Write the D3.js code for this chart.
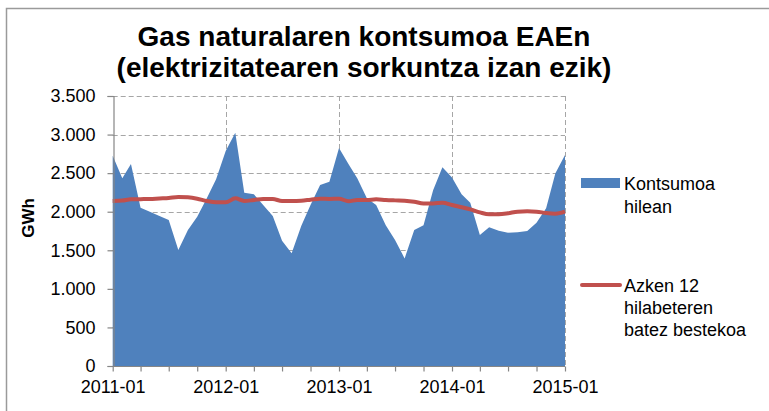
<!DOCTYPE html>
<html lang="eu">
<meta charset="utf-8">
<script src="https://d3js.org/d3.v7.min.js"></script>
<style>
  body { margin: 0; background: #fff; }
  text { font-family: "Liberation Sans", Arial, sans-serif; fill: #000; }
</style>
<div id="my_dataviz"></div>
<script>

// monthly consumption (GWh), 2011-01 .. 2015-01
var kontsumoa = [2726, 2433, 2618, 2053, 2001, 1944, 1893, 1504, 1763, 1936, 2173, 2420,
                 2787, 3025, 2247, 2225, 2087, 1944, 1625, 1460, 1815, 2087, 2346, 2390,
                 2826, 2616, 2433, 2173, 2087, 1826, 1633, 1395, 1763, 1826, 2279, 2575,
                 2445, 2225, 2117, 1698, 1797, 1754, 1728, 1733, 1750, 1858, 2044, 2498,
                 2736];
// 12-month moving average
var batezBestekoa = [2139, 2145, 2161, 2163, 2165, 2172, 2178, 2190, 2186, 2169, 2139, 2122,
                     2122, 2173, 2139, 2152, 2165, 2165, 2139, 2139, 2143, 2156, 2169, 2165,
                     2169, 2135, 2152, 2152, 2161, 2152, 2147, 2143, 2130, 2108, 2108, 2117,
                     2087, 2057, 2031, 1992, 1966, 1966, 1979, 2001, 2005, 2001, 1983, 1975,
                     2001];
var startMonth = new Date(2011, 0, 1);
var endMonth = new Date(2015, 0, 1);
var yTicks = [0, 500, 1000, 1500, 2000, 2500, 3000, 3500];
var titleLines = ["Gas naturalaren kontsumoa EAEn", "(elektrizitatearen sorkuntza izan ezik)"];
var legendArea = ["Kontsumoa", "hilean"];
var legendLine = ["Azken 12", "hilabeteren", "batez bestekoa"];

var W = 769, H = 411;
var margin = {top: 96, left: 112.7, right: 204, bottom: 45};

var svg = d3.select("#my_dataviz")
  .append("svg")
    .attr("width", W)
    .attr("height", H);

// outer chart frame
svg.append("rect")
  .attr("x", 6.5).attr("y", 8.5)
  .attr("width", 800).attr("height", 420)
  .attr("fill", "none")
  .attr("stroke", "#9a9a9a")
  .attr("stroke-width", 1.5);

var months = d3.timeMonth.range(startMonth, d3.timeMonth.offset(endMonth, 1));
var data = months.map(function(m, i) {
  return {date: m, value: kontsumoa[i], avg: batezBestekoa[i]};
});

var x = d3.scaleTime()
  .domain([startMonth, endMonth])
  .range([margin.left, W - margin.right]);

var y = d3.scaleLinear()
  .domain([0, 3500])
  .range([H - margin.bottom, margin.top]);

var loc = d3.formatLocale({decimal: ",", thousands: ".", grouping: [3], currency: ["", "€"]});
var fmt = loc.format(",d");

// gridlines
var grid = svg.append("g")
  .attr("stroke", "#a6a6a6")
  .attr("stroke-width", 1)
  .attr("stroke-dasharray", "5,3");
grid.selectAll("line.h")
  .data(yTicks.slice(1))
  .enter().append("line")
    .attr("x1", x.range()[0]).attr("x2", x.range()[1])
    .attr("y1", function(d) { return Math.round(y(d)) + 0.5; })
    .attr("y2", function(d) { return Math.round(y(d)) + 0.5; });
grid.selectAll("line.v")
  .data(d3.timeYear.range(new Date(2012, 0, 1), d3.timeMonth.offset(endMonth, 1)))
  .enter().append("line")
    .attr("x1", function(d) { return Math.round(x(d)) + 0.5; })
    .attr("x2", function(d) { return Math.round(x(d)) + 0.5; })
    .attr("y1", y(3500)).attr("y2", y(0));

// area
var area = d3.area()
  .x(function(d) { return x(d.date); })
  .y0(y(0))
  .y1(function(d) { return y(d.value); });
svg.append("path")
  .datum(data)
  .attr("fill", "#4f81bd")
  .attr("d", area);

// moving average line
var line = d3.line()
  .x(function(d) { return x(d.date); })
  .y(function(d) { return y(d.avg); })
  .curve(d3.curveMonotoneX);
svg.append("path")
  .datum(data)
  .attr("fill", "none")
  .attr("stroke", "#c0504d")
  .attr("stroke-width", 4)
  .attr("stroke-linejoin", "round")
  .attr("d", line);

// axes
var yAxis = svg.append("g")
  .attr("transform", "translate(" + (Math.round(margin.left) + 0.5) + ",0)")
  .call(d3.axisLeft(y).tickValues(yTicks).tickFormat(fmt).tickSize(6).tickPadding(12));
var xAxis = svg.append("g")
  .attr("transform", "translate(0," + (Math.round(y(0)) + 0.5) + ")")
  .call(d3.axisBottom(x)
    .tickValues(d3.timeMonth.every(3).range(startMonth, d3.timeMonth.offset(endMonth, 1)))
    .tickFormat(function(d) { return d.getMonth() === 0 ? d3.timeFormat("%Y-%m")(d) : ""; })
    .tickSize(5).tickPadding(9));
[yAxis, xAxis].forEach(function(a) {
  a.selectAll(".domain, .tick line").attr("stroke", "#868686").attr("stroke-width", 1.2);
  a.selectAll("text").style("font-size", "18px").attr("fill", "#000");
});
xAxis.select(".domain").attr("d", "M" + x.range()[0] + ",0H" + x.range()[1]);

// y axis title
svg.append("text")
  .attr("transform", "translate(34,218) rotate(-90)")
  .attr("text-anchor", "middle")
  .style("font-size", "17px")
  .style("font-weight", "bold")
  .text("GWh");

// title
svg.selectAll("text.title")
  .data(titleLines)
  .enter().append("text")
    .attr("class", "title")
    .attr("x", 364)
    .attr("y", function(d, i) { return 46 + i * 31; })
    .attr("text-anchor", "middle")
    .style("font-size", "28px")
    .style("font-weight", "bold")
    .text(function(d) { return d; });

// legend
var lg = svg.append("g");
lg.append("rect")
  .attr("x", 581).attr("y", 178)
  .attr("width", 39).attr("height", 10)
  .attr("fill", "#4f81bd");
lg.selectAll("text.la")
  .data(legendArea)
  .enter().append("text")
    .attr("x", 624)
    .attr("y", function(d, i) { return 190 + i * 23; })
    .style("font-size", "18px")
    .text(function(d) { return d; });
lg.append("line")
  .attr("x1", 582).attr("x2", 620)
  .attr("y1", 285).attr("y2", 285)
  .attr("stroke", "#c0504d")
  .attr("stroke-width", 4)
  .attr("stroke-linecap", "round");
lg.selectAll("text.ll")
  .data(legendLine)
  .enter().append("text")
    .attr("x", 624)
    .attr("y", function(d, i) { return 292 + i * 22; })
    .style("font-size", "18px")
    .text(function(d) { return d; });

</script>
</html>
